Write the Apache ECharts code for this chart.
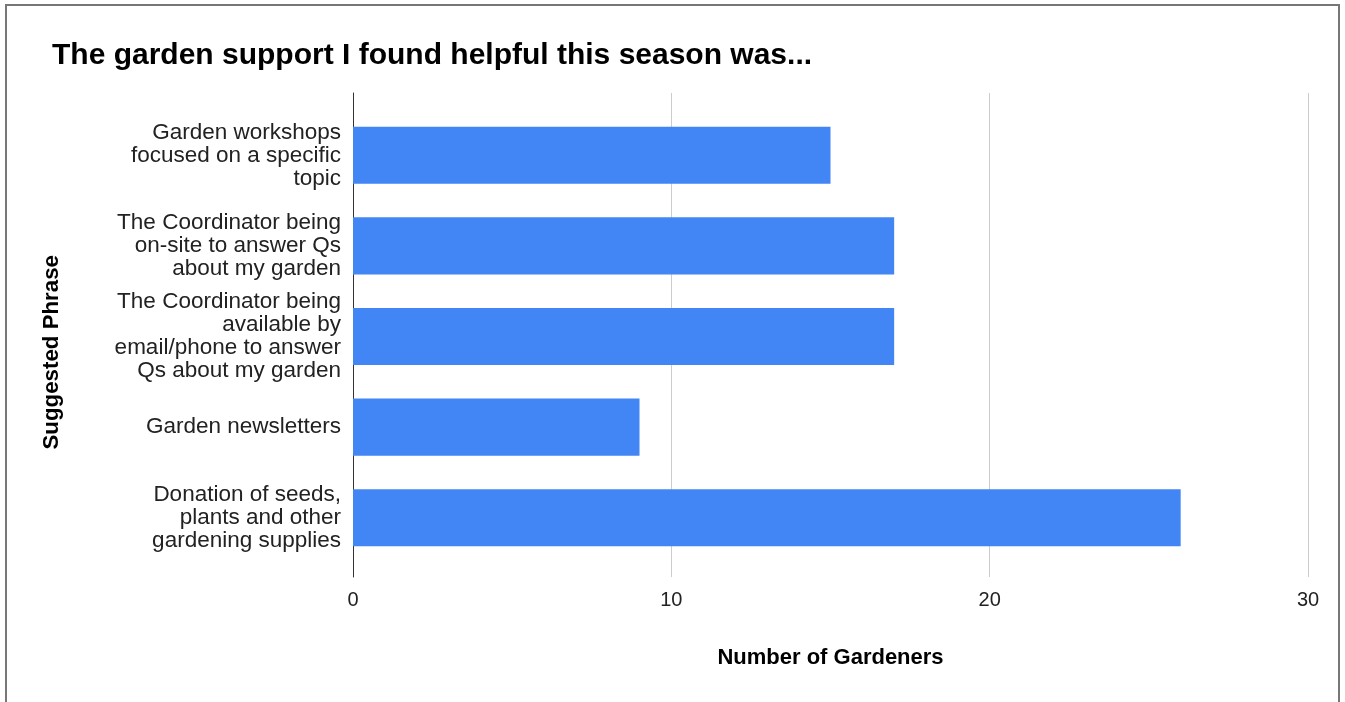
<!DOCTYPE html>
<html>
<head>
<meta charset="utf-8">
<script src="https://cdn.jsdelivr.net/npm/echarts@6/dist/echarts.min.js"></script>
<style>
html,body{margin:0;padding:0;background:#fff;}
#chart{width:1345px;height:702px;}
</style>
</head>
<body>
<div id="chart"></div>
<script>
const titleText = "The garden support I found helpful this season was...";
const categories = [
  "Garden workshops\nfocused on a specific\ntopic",
  "The Coordinator being\non-site to answer Qs\nabout my garden",
  "The Coordinator being\navailable by\nemail/phone to answer\nQs about my garden",
  "Garden newsletters",
  "Donation of seeds,\nplants and other\ngardening supplies"
];
const gardeners = [15, 17, 17, 9, 26];
const xAxisName = "Number of Gardeners";
const yAxisName = "Suggested Phrase";

const FONT = "'Liberation Sans', Arial, sans-serif";
const chart = echarts.init(document.getElementById('chart'), null, {renderer: 'canvas'});
chart.setOption({
  animation: false,
  backgroundColor: '#fff',
  textStyle: {fontFamily: FONT},
  title: {
    text: titleText,
    left: 47, top: 36,
    textStyle: {fontFamily: FONT, fontSize: 30, fontWeight: 'bold', color: '#000'}
  },
  graphic: [{
    type: 'rect', silent: true, z: 100,
    shape: {x: 6, y: 5, width: 1333, height: 740},
    style: {fill: 'none', stroke: '#777', lineWidth: 2}
  }, {
    type: 'text', left: 41, top: 255,
    rotation: Math.PI / 2,
    style: {text: yAxisName, font: "bold 22.3px " + FONT, fill: '#000'}
  }],
  grid: [
    {left: 353, right: 37, top: 110, bottom: 139, containLabel: false},
    {left: 353, right: 37, top: 93, bottom: 125, containLabel: false}
  ],
  xAxis: [{
    type: 'value', gridIndex: 0, min: 0, max: 30, interval: 10, show: false
  }, {
    type: 'value', gridIndex: 1, min: 0, max: 30, interval: 10,
    name: xAxisName, nameLocation: 'middle', nameGap: 70,
    nameTextStyle: {fontFamily: FONT, fontSize: 22, fontWeight: 'bold', color: '#000'},
    axisLine: {show: false}, axisTick: {show: false},
    axisLabel: {fontFamily: FONT, fontSize: 20, color: '#222', margin: 13},
    splitLine: {show: true, lineStyle: {color: '#cccccc', width: 1}}
  }],
  yAxis: [{
    type: 'category', gridIndex: 0, data: categories, inverse: true,
    axisLine: {show: false},
    axisTick: {show: false},
    axisLabel: {fontFamily: FONT, fontSize: 22.5, color: '#222', margin: 12, lineHeight: 23, align: 'right'}
  }, {
    type: 'value', gridIndex: 1, min: 0, max: 1,
    axisLine: {show: true, onZero: false, lineStyle: {color: '#333', width: 1}},
    axisTick: {show: false}, axisLabel: {show: false}, splitLine: {show: false}
  }],
  series: [{
    type: 'bar', xAxisIndex: 0, yAxisIndex: 0, data: gardeners,
    barCategoryGap: '37%',
    itemStyle: {color: '#4285f4'}
  }]
});
</script>
</body>
</html>
